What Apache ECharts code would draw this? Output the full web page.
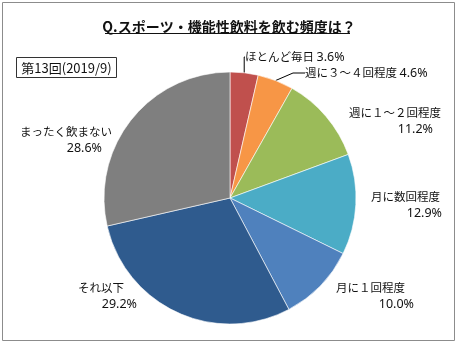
<!DOCTYPE html>
<html>
<head>
<meta charset="utf-8">
<script src="https://cdn.jsdelivr.net/npm/echarts@6/dist/echarts.min.js"></script>
<style>
html,body{margin:0;padding:0;background:#fff;}
#c{width:458px;height:345px;}
</style>
</head>
<body>
<div id="c"></div>
<script>
// ---- data ----
const categories = ['ほとんど毎日', '週に３～４回程度', '週に１～２回程度', '月に数回程度', '月に１回程度', 'それ以下', 'まったく飲まない'];
const values = [3.6, 4.6, 11.2, 12.9, 10.0, 29.2, 28.6];
const titleText = 'Q.スポーツ・機能性飲料を飲む頻度は？';
const surveyText = '第13回(2019/9)';

// ---- styles / layout ----
const colors = ['#C0504D', '#F79646', '#9BBB59', '#4BACC6', '#4F81BD', '#2F5B8E', '#7F7F7F'];
const FONT = '"Noto Sans CJK JP", "Noto Sans", sans-serif';
const NUMFONT = '"Noto Sans", "Noto Sans CJK JP", sans-serif';
const labelPos = [
  {x: 245, y: 57, align: 'left', single: true},
  {x: 305, y: 73, align: 'left', single: true},
  {x: 441, y: 121, align: 'right', np: 0, pp: 8},
  {x: 442, y: 205, align: 'right', np: 2, pp: 0},
  {x: 414, y: 296, align: 'right', np: 9, pp: 0},
  {x: 137, y: 296, align: 'right', np: 13, pp: 0},
  {x: 112, y: 140, align: 'right', np: 0, pp: 10}
];

const chart = echarts.init(document.getElementById('c'), null, {renderer: 'canvas'});

const data = categories.map((name, i) => {
  const lp = labelPos[i];
  const pct = values[i].toFixed(1) + '%';
  const item = {
    name: name,
    value: values[i],
    itemStyle: {color: colors[i]},
    labelLine: {show: !!lp.single, length: 8, length2: 12, lineStyle: {color: '#000', width: 1}},
    label: {}
  };
  if (lp.single) {
    item.label.formatter = '{n|{b}} {p|' + pct + '}';
    item.label.rich = {
      n: {fontSize: 11.5, fontFamily: FONT, color: '#111'},
      p: {fontSize: 12.5, fontFamily: NUMFONT, color: '#111'}
    };
  } else {
    item.label.formatter = '{n|{b}}\n{p|' + pct + '}';
    item.label.rich = {
      n: {align: 'right', padding: [0, lp.np, 0, 0], fontSize: 11.5, fontFamily: FONT, color: '#111', lineHeight: 17},
      p: {align: 'right', padding: [0, lp.pp, 0, 0], fontSize: 12.5, fontFamily: NUMFONT, color: '#111', lineHeight: 17}
    };
  }
  return item;
});

chart.setOption({
  animation: false,
  backgroundColor: '#fff',
  title: {
    text: titleText,
    left: 'center',
    top: 15,
    textStyle: {fontSize: 14, fontWeight: 'bold', fontFamily: FONT, color: '#111'}
  },
  graphic: [
    {type: 'rect', shape: {x: 2.5, y: 2.5, width: 452, height: 338}, style: {fill: null, stroke: '#8c8c8c', lineWidth: 1}, silent: true, z: -1},
    {type: 'line', shape: {x1: 105, y1: 33.5, x2: 350, y2: 33.5}, style: {stroke: '#111', lineWidth: 1}},
    {type: 'rect', shape: {x: 16.5, y: 57.5, width: 100, height: 20}, style: {fill: '#fff', stroke: '#333', lineWidth: 1}},
    {type: 'text', style: {x: 66.5, y: 68, text: surveyText, align: 'center', verticalAlign: 'middle', fontSize: 13, fontFamily: FONT, fill: '#111'}}
  ],
  series: [{
    type: 'pie',
    center: [230, 198],
    radius: 126,
    startAngle: 90,
    clockwise: true,
    data: data,
    itemStyle: {borderColor: '#fff', borderWidth: 0.6},
    label: {
      show: true,
      position: 'outside',
      fontSize: 11.5,
      fontFamily: FONT,
      color: '#111',
      lineHeight: 17
    },
    labelLayout: function (params) {
      const lp = labelPos[params.dataIndex];
      return {x: lp.x, y: lp.y, align: lp.align, verticalAlign: 'middle'};
    },
    emphasis: {disabled: true}
  }]
});
</script>
</body>
</html>
